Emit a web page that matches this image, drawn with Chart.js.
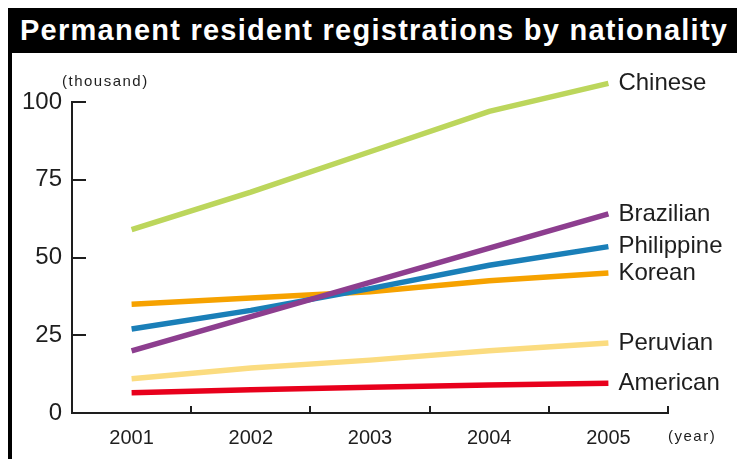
<!DOCTYPE html>
<html>
<head>
<meta charset="utf-8">
<script src="https://cdn.jsdelivr.net/npm/chart.js@4/dist/chart.umd.min.js"></script>
<style>
  html, body { margin: 0; padding: 0; background: #fff; }
  #wrap { position: relative; width: 743px; height: 459px; overflow: hidden; }
  #titleBar {
    position: absolute; left: 8px; top: 8px; width: 729px; height: 45px;
    background: #000; color: #fff;
    font: bold 29px "Liberation Sans", Arial, sans-serif;
    letter-spacing: 1.25px; line-height: 45px; white-space: nowrap;
    padding-left: 12px; box-sizing: border-box;
  }
  #leftRule { position: absolute; left: 8px; top: 53px; width: 4px; height: 406px; background: #000; }
  #chartBox { position: absolute; left: 0; top: 0; width: 743px; height: 459px; }
</style>
</head>
<body>
<div id="wrap">
  <div id="chartBox"><canvas id="residentChart"></canvas></div>
  <div id="titleBar">Permanent resident registrations by nationality</div>
  <div id="leftRule"></div>
</div>
<script>
const years = ['2001', '2002', '2003', '2004', '2005'];
const chinese = [59, 71, 84, 97, 106];
const brazilian = [20, 31, 42, 53, 64];
const philippine = [27, 33, 40, 47.5, 53.5];
const korean = [35, 37, 39, 42.5, 45];
const peruvian = [11, 14.5, 17, 20, 22.5];
const american = [6.5, 7.5, 8.3, 9, 9.6];
const yTicks = [0, 25, 50, 75, 100];

const fontFamily = '"Liberation Sans", Arial, sans-serif';
const inkColor = '#1e1e1e';

function makeSeries(label, data, color) {
  return {
    label,
    data,
    borderColor: color,
    backgroundColor: color,
    borderWidth: 5.5,
    borderCapStyle: 'butt',
    pointRadius: 0,
    tension: 0,
    fill: false,
    clip: false
  };
}

// inward tick marks, end labels and the small unit notes
const decorations = {
  id: 'decorations',
  afterDraw(chart) {
    const ctx = chart.ctx;
    const xs = chart.scales.x;
    const ys = chart.scales.y;
    const area = chart.chartArea;
    ctx.save();
    ctx.strokeStyle = inkColor;
    ctx.lineWidth = 2;

    yTicks.forEach(v => {
      if (v === 0) return;
      const y = Math.round(ys.getPixelForValue(v));
      ctx.beginPath();
      ctx.moveTo(area.left, y);
      ctx.lineTo(area.left + 14, y);
      ctx.stroke();
    });

    const band = (area.right - area.left) / years.length;
    for (let i = 1; i <= years.length; i++) {
      const x = Math.round(area.left + band * i);
      ctx.beginPath();
      ctx.moveTo(x, area.bottom);
      ctx.lineTo(x, area.bottom - 7);
      ctx.stroke();
    }

    ctx.fillStyle = inkColor;
    ctx.textBaseline = 'middle';
    ctx.textAlign = 'left';
    ctx.font = '24px ' + fontFamily;
    chart.data.datasets.forEach(ds => {
      const last = ds.data.length - 1;
      const x = xs.getPixelForValue(last) + 10;
      const y = ys.getPixelForValue(ds.data[last]);
      ctx.fillText(ds.label, x, y);
    });

    ctx.font = '15px ' + fontFamily;
    ctx.letterSpacing = '1.5px';
    ctx.fillText('(thousand)', area.left - 10, area.top - 20);
    ctx.fillText('(year)', area.right, area.bottom + 24);
    ctx.restore();
  }
};

new Chart(document.getElementById('residentChart').getContext('2d'), {
  type: 'line',
  data: {
    labels: years,
    datasets: [
      makeSeries('Chinese', chinese, '#bcd65c'),
      makeSeries('Brazilian', brazilian, '#8d3e8f'),
      makeSeries('Philippine', philippine, '#1a7fb8'),
      makeSeries('Korean', korean, '#f6a200'),
      makeSeries('Peruvian', peruvian, '#fbdc80'),
      makeSeries('American', american, '#e8001c')
    ]
  },
  options: {
    responsive: true,
    maintainAspectRatio: false,
    animation: false,
    layout: { padding: { left: 0, top: 102, right: 75, bottom: 0 } },
    scales: {
      x: {
        type: 'category',
        offset: true,
        grid: { display: false, drawTicks: false },
        border: { display: true, color: inkColor, width: 2 },
        ticks: { color: inkColor, padding: 13, font: { size: 20, family: fontFamily }, maxRotation: 0 },
        afterFit(scale) { scale.height = 46; }
      },
      y: {
        min: 0,
        max: 100,
        grid: { display: false, drawTicks: false },
        border: { display: true, color: inkColor, width: 2 },
        ticks: { stepSize: 25, color: inkColor, padding: 10, font: { size: 24, family: fontFamily } },
        afterFit(scale) { scale.width = 72; }
      }
    },
    plugins: {
      legend: { display: false },
      tooltip: { enabled: false }
    }
  },
  plugins: [decorations]
});
</script>
</body>
</html>
